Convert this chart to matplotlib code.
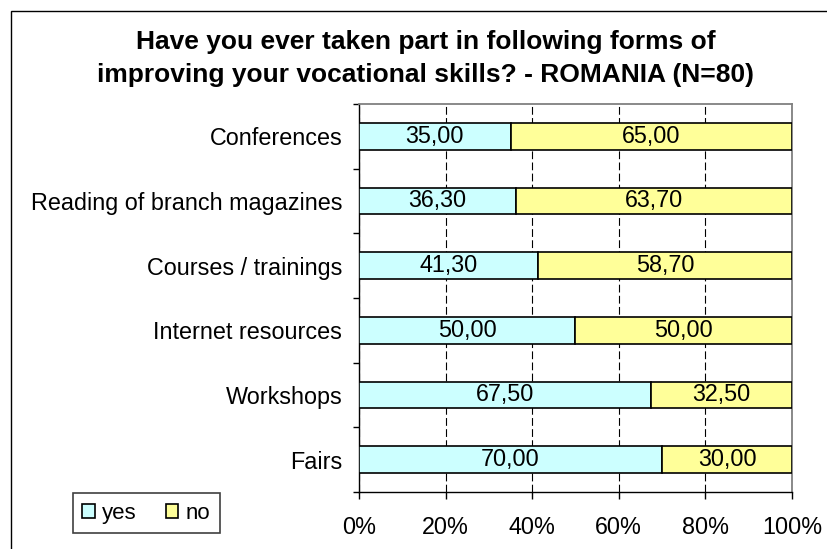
import matplotlib
matplotlib.use("Agg")
import matplotlib.pyplot as plt
from matplotlib.patches import Rectangle
from matplotlib.ticker import FixedLocator, NullFormatter

plt.rcParams['font.family'] = ['Liberation Sans', 'DejaVu Sans']

title_lines = ["Have you ever taken part in following forms of",
               "improving your vocational skills? - ROMANIA (N=80)"]
categories = ["Conferences", "Reading of branch magazines", "Courses / trainings",
              "Internet resources", "Workshops", "Fairs"]
yes_vals = [35.0, 36.3, 41.3, 50.0, 67.5, 70.0]
no_vals = [65.0, 63.7, 58.7, 50.0, 32.5, 30.0]
series_names = ["yes", "no"]
x_ticks = [0, 20, 40, 60, 80, 100]
x_tick_labels = ["0%", "20%", "40%", "60%", "80%", "100%"]

W, H = 828, 549
fig = plt.figure(figsize=(W / 100, H / 100), dpi=100)

# outer chart border (extends past right/bottom edges)
fig.patches.append(Rectangle((11 / W, -0.1), 1.2, (H - 11) / H + 0.1,
                             transform=fig.transFigure, fill=False,
                             edgecolor='black', linewidth=1.0, zorder=0))

ax = fig.add_axes([359 / W, (H - 492) / H, 433 / W, 388 / H])
ypos = list(range(len(categories)))
bh = 0.41
c_yes = '#CCFFFF'
c_no = '#FFFF99'
b1 = ax.barh(ypos, yes_vals, height=bh, color=c_yes, edgecolor='black',
             linewidth=1.2, label=series_names[0], zorder=3)
b2 = ax.barh(ypos, no_vals, left=yes_vals, height=bh, color=c_no, edgecolor='black',
             linewidth=1.2, label=series_names[1], zorder=3)

fmt = lambda v: f"{v:.2f}".replace('.', ',')
for i in ypos:
    ax.text(yes_vals[i] / 2, i, fmt(yes_vals[i]), ha='center', va='center',
            fontsize=16.8, zorder=4)
    ax.text(yes_vals[i] + no_vals[i] / 2, i, fmt(no_vals[i]), ha='center', va='center',
            fontsize=16.8, zorder=4)

ax.set_xlim(0, 100)
ax.set_ylim(len(categories) - 0.5, -0.5)
ax.set_xticks(x_ticks)
ax.set_xticklabels(x_tick_labels, fontsize=16.8)
ax.set_yticks(ypos)
ax.set_yticklabels(categories, fontsize=16.8)
ax.yaxis.set_minor_locator(FixedLocator([i - 0.5 for i in range(len(categories) + 1)]))
ax.yaxis.set_minor_formatter(NullFormatter())
ax.tick_params(axis='y', which='major', length=0, pad=12)
ax.tick_params(axis='y', which='minor', length=4.5, width=1, color='black', direction='out')
ax.tick_params(axis='x', which='major', length=5, width=1, direction='out', pad=12)

ax.grid(axis='x', color='black', linestyle=(0, (7, 3)), linewidth=0.8, zorder=1)
ax.set_axisbelow(True)

for s in ['top', 'right']:
    ax.spines[s].set_color('#808080')
    ax.spines[s].set_linewidth(1.3)
for s in ['left', 'bottom']:
    ax.spines[s].set_color('black')
    ax.spines[s].set_linewidth(1.0)

fig.text(426 / W, 1 - 42 / H, title_lines[0], ha='center', va='center',
         fontsize=19, fontweight='bold')
fig.text(426 / W, 1 - 75 / H, title_lines[1], ha='center', va='center',
         fontsize=19, fontweight='bold')

leg = fig.legend(handles=[b1, b2], labels=series_names, loc='lower left',
                 bbox_to_anchor=(73 / W, 16 / H), bbox_transform=fig.transFigure,
                 borderaxespad=0, ncol=2, fontsize=16, handlelength=0.55,
                 handleheight=0.55, handletextpad=0.35, columnspacing=1.3,
                 borderpad=0.42, fancybox=False, framealpha=1)
leg.get_frame().set_edgecolor('#404040')
leg.get_frame().set_linewidth(1.2)

fig.savefig('out.png', dpi=100)
